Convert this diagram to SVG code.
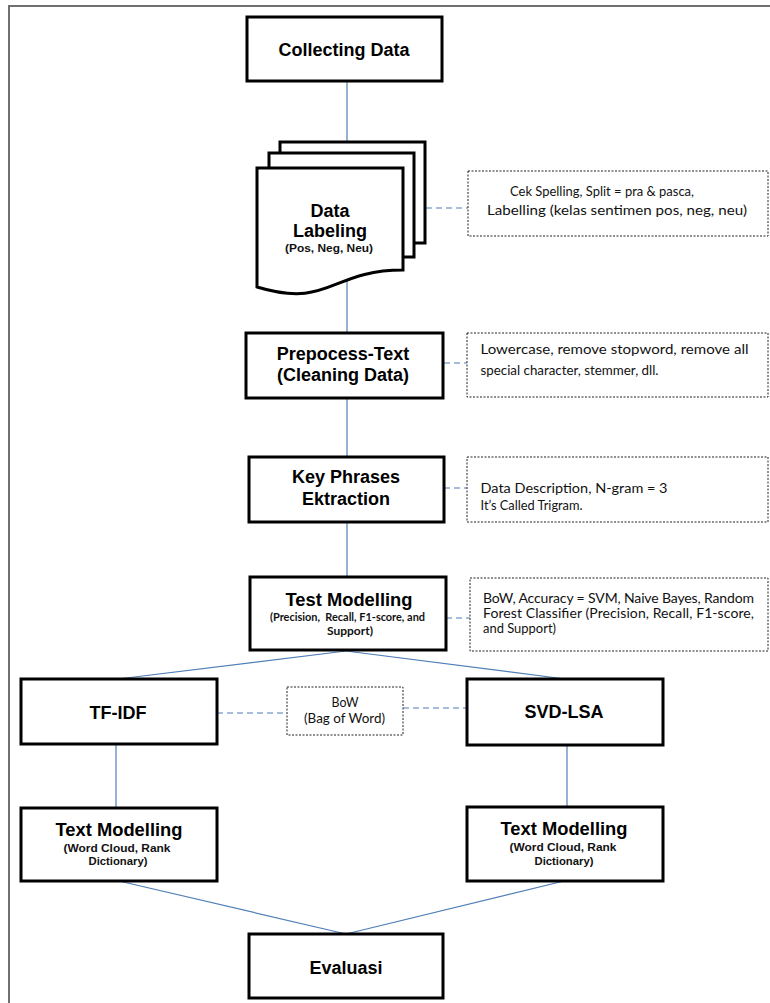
<svg xmlns="http://www.w3.org/2000/svg" width="770" height="1003" viewBox="0 0 770 1003">
<style>
.bx{fill:#fff;stroke:#000;stroke-width:3}
.db{fill:#fff;stroke:#222;stroke-width:1;stroke-dasharray:2 1.5}
.ln{stroke:#4f7fb8;stroke-width:1.2;fill:none}
.dl{stroke:#4f7fb8;stroke-width:1.2;fill:none;stroke-dasharray:6 4}
.t{font-family:"Liberation Sans",Arial,sans-serif;font-weight:bold;font-size:18px;fill:#000;text-anchor:middle}
.s{font-family:"Liberation Sans",Arial,sans-serif;font-weight:bold;font-size:11.5px;fill:#111;text-anchor:middle}
.c{font-family:Lato,"Liberation Sans",sans-serif;font-size:14px;fill:#111}
.cm{font-family:Lato,"Liberation Sans",sans-serif;font-size:13.5px;fill:#111;text-anchor:middle}
.cb{font-family:Lato,"Liberation Sans",sans-serif;font-weight:bold;font-size:11px;fill:#111;text-anchor:middle}
</style>
<path d="M9,1003 V6 H770" fill="none" stroke="#707070" stroke-width="2"/>
<g id="connectors">
<line class="ln" x1="347" y1="81" x2="347" y2="142"/>
<line class="ln" x1="347" y1="279" x2="347" y2="333"/>
<line class="ln" x1="347" y1="398" x2="347" y2="457"/>
<line class="ln" x1="347" y1="522" x2="347" y2="577"/>
<line class="ln" x1="346" y1="651" x2="118" y2="679"/>
<line class="ln" x1="346" y1="651" x2="565" y2="679"/>
<line class="ln" x1="116" y1="745" x2="116" y2="808"/>
<line class="ln" x1="567" y1="745" x2="567" y2="807"/>
<line class="ln" x1="119" y1="881" x2="346" y2="934"/>
<line class="ln" x1="564" y1="881" x2="346" y2="934"/>
<line class="dl" x1="426" y1="208" x2="468" y2="208"/>
<line class="dl" x1="444" y1="363" x2="467" y2="363"/>
<line class="dl" x1="444" y1="488" x2="467" y2="488"/>
<line class="dl" x1="446" y1="618" x2="470" y2="618"/>
<line class="dl" x1="217" y1="713" x2="287" y2="713"/>
<line class="dl" x1="403" y1="708" x2="467" y2="708"/>
</g>
<g id="collecting">
<rect class="bx" x="247" y="17" width="195" height="64"/>
<text class="t" x="344" y="56">Collecting Data</text>
</g>
<g id="labeling">
<rect class="bx" x="280" y="142" width="145" height="101"/>
<rect class="bx" x="269" y="153" width="145" height="104"/>
<path class="bx" d="M257,168 H403 V270 C330,270 330,309 257,287 Z"/>
<text class="t" x="330" y="217">Data</text>
<text class="t" x="330" y="237">Labeling</text>
<text class="s" x="329" y="252" textLength="88" lengthAdjust="spacingAndGlyphs">(Pos, Neg, Neu)</text>
</g>
<g id="note-labeling">
<rect class="db" x="468" y="171" width="300" height="65"/>
<text class="c" x="510" y="196" textLength="184" lengthAdjust="spacingAndGlyphs">Cek Spelling, Split = pra &amp; pasca,</text>
<text class="c" x="487" y="215" textLength="260" lengthAdjust="spacingAndGlyphs">Labelling (kelas sentimen pos, neg, neu)</text>
</g>
<g id="prepocess">
<rect class="bx" x="246" y="333" width="197" height="65"/>
<text class="t" x="343" y="360">Prepocess-Text</text>
<text class="t" x="343" y="381">(Cleaning Data)</text>
</g>
<g id="note-prepocess">
<rect class="db" x="467" y="333" width="301" height="64"/>
<text class="c" x="480.5" y="354" font-size="15.5" textLength="268" lengthAdjust="spacingAndGlyphs">Lowercase, remove stopword, remove all</text>
<text class="c" x="480.5" y="375" font-size="15.5" textLength="178" lengthAdjust="spacingAndGlyphs">special character, stemmer, dll.</text>
</g>
<g id="keyphrases">
<rect class="bx" x="249" y="457" width="195" height="65"/>
<text class="t" x="346" y="483">Key Phrases</text>
<text class="t" x="346" y="505">Ektraction</text>
</g>
<g id="note-keyphrases">
<rect class="db" x="467" y="457" width="301" height="65"/>
<text class="c" x="480.5" y="493" font-size="15.5" textLength="187" lengthAdjust="spacingAndGlyphs">Data Description, N-gram = 3</text>
<text class="c" x="480.5" y="510" font-size="15.5" textLength="102" lengthAdjust="spacingAndGlyphs">It’s Called Trigram.</text>
</g>
<g id="testmodelling">
<rect class="bx" x="250" y="577" width="196" height="73"/>
<text class="t" x="349" y="606" textLength="127" lengthAdjust="spacingAndGlyphs">Test Modelling</text>
<text class="cb" x="347.5" y="621" textLength="155" lengthAdjust="spacingAndGlyphs" xml:space="preserve">(Precision,  Recall, F1-score, and</text>
<text class="cb" x="350" y="635" textLength="46" lengthAdjust="spacingAndGlyphs">Support)</text>
</g>
<g id="note-testmodelling">
<rect class="db" x="470" y="578" width="298" height="73"/>
<text class="c" x="483" y="603" textLength="271" lengthAdjust="spacing">BoW, Accuracy = SVM, Naive Bayes, Random</text>
<text class="c" x="483" y="618" textLength="271" lengthAdjust="spacing">Forest Classifier (Precision, Recall, F1-score,</text>
<text class="c" x="483" y="633" textLength="73" lengthAdjust="spacingAndGlyphs">and Support)</text>
</g>
<g id="tfidf">
<rect class="bx" x="21" y="679" width="196" height="65"/>
<text class="t" x="118" y="719">TF-IDF</text>
</g>
<g id="bow">
<rect class="db" x="287" y="687" width="116" height="48"/>
<text class="cm" x="345" y="707" textLength="27" lengthAdjust="spacingAndGlyphs">BoW</text>
<text class="cm" x="344.5" y="723" textLength="81" lengthAdjust="spacingAndGlyphs">(Bag of Word)</text>
</g>
<g id="svdlsa">
<rect class="bx" x="467" y="679" width="196" height="66"/>
<text class="t" x="564" y="718">SVD-LSA</text>
</g>
<g id="textmodel-left">
<rect class="bx" x="21" y="808" width="196" height="73"/>
<text class="t" x="119" y="836" textLength="127" lengthAdjust="spacingAndGlyphs">Text Modelling</text>
<text class="s" x="117" y="851.5" textLength="107" lengthAdjust="spacingAndGlyphs">(Word Cloud, Rank</text>
<text class="s" x="118" y="865" textLength="59" lengthAdjust="spacingAndGlyphs">Dictionary)</text>
</g>
<g id="textmodel-right">
<rect class="bx" x="467" y="807" width="196" height="74"/>
<text class="t" x="564" y="835" textLength="127" lengthAdjust="spacingAndGlyphs">Text Modelling</text>
<text class="s" x="563" y="850.5" textLength="107" lengthAdjust="spacingAndGlyphs">(Word Cloud, Rank</text>
<text class="s" x="564" y="865" textLength="59" lengthAdjust="spacingAndGlyphs">Dictionary)</text>
</g>
<g id="evaluasi">
<rect class="bx" x="249" y="934" width="194" height="64"/>
<text class="t" x="346" y="974">Evaluasi</text>
</g>
</svg>
